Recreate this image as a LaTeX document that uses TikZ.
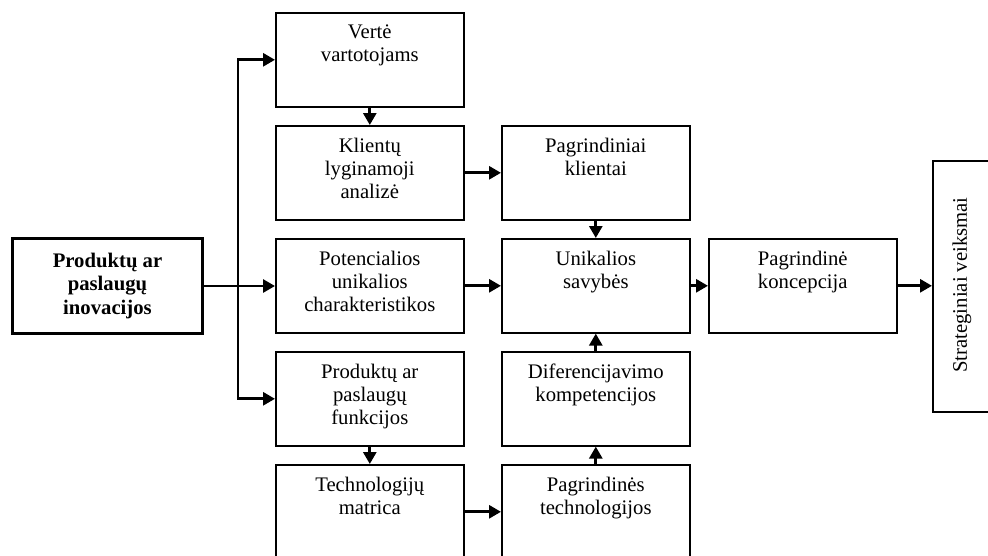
\documentclass[tikz,border=0pt]{standalone}
\usepackage{fontspec}
\setmainfont{Liberation Serif}
\usetikzlibrary{arrows.meta,calc}
\begin{document}
\begin{tikzpicture}[x=1pt,y=-1pt,
  box/.style={draw, line width=1.6pt, minimum width=188pt, minimum height=94pt, inner sep=0pt, anchor=north west},
  txt/.style={font=\fontsize{20.7}{23.3}\selectfont, align=center, inner sep=0pt, anchor=north},
  arr/.style={line width=2.8pt, -{Triangle[length=12pt,width=13pt]}}]
\clip (0,0) rectangle (988,555);
\fill[white] (0,0) rectangle (988,555);
% boxes
\node[box] (v) at (275,12) {};
\node[box] (k) at (275,125) {};
\node[box] (pot) at (275,238) {};
\node[box] (f) at (275,351) {};
\node[box] (tm) at (275,464) {};
\node[box] (pk) at (501,125) {};
\node[box] (u) at (501,238) {};
\node[box] (d) at (501,351) {};
\node[box] (pt) at (501,464) {};
\node[box] (c) at (708,238) {};
\node[draw, line width=1.6pt, minimum width=80pt, minimum height=251pt, anchor=north west, inner sep=0pt] (s) at (932,160) {};
\node[draw, line width=3pt, minimum width=190pt, minimum height=95pt, anchor=north west, inner sep=0pt] (inn) at (11,237) {};
% texts
\node[txt] (vt) at ($(v.north)+(0,12.5)$) {Vertė\\vartotojams};
\node[txt] (kt) at ($(k.north)+(0,12.5)$) {Klientų\\lyginamoji\\analizė};
\node[txt] (pott) at ($(pot.north)+(0,12.5)$) {Potencialios\\unikalios\\charakteristikos};
\node[txt] (ft) at ($(f.north)+(0,12.5)$) {Produktų ar\\paslaugų\\funkcijos};
\node[txt] (tmt) at ($(tm.north)+(0,12.5)$) {Technologijų\\matrica};
\node[txt] (pkt) at ($(pk.north)+(0,12.5)$) {Pagrindiniai\\klientai};
\node[txt] (ut) at ($(u.north)+(0,12.5)$) {Unikalios\\savybės};
\node[txt] (dt) at ($(d.north)+(0,12.5)$) {Diferencijavimo\\kompetencijos};
\node[txt] (ptt) at ($(pt.north)+(0,12.5)$) {Pagrindinės\\technologijos};
\node[txt] (ct) at ($(c.north)+(0,12.5)$) {Pagrindinė\\koncepcija};
\node[txt, anchor=center, font=\fontsize{20.7}{23.3}\selectfont\bfseries] (innt) at (inn.center) {Produktų ar\\paslaugų\\inovacijos};
\node[txt, anchor=center, rotate=90] (st) at (962,285) {Strateginiai veiksmai};
% connectors
\coordinate (tr) at (238,285);
\draw[arr] (inn.east) -- (inn.east -| pot.west);
\draw[arr] (tr) |- (v.west);
\draw[arr] (tr) |- (f.west);
\draw[arr] (v.south) -- (k.north);
\draw[arr] (f.south) -- (tm.north);
\draw[arr] (k.east) -- (pk.west);
\draw[arr] (pot.east) -- (u.west);
\draw[arr] (pk.south) -- (u.north);
\draw[arr] (d.north) -- (u.south);
\draw[arr] (pt.north) -- (d.south);
\draw[arr] (u.east) -- (c.west);
\draw[arr] (c.east) -- (c.east -| s.west);
\draw[arr] (tm.east) -- (pt.west);
\end{tikzpicture}
\end{document}
